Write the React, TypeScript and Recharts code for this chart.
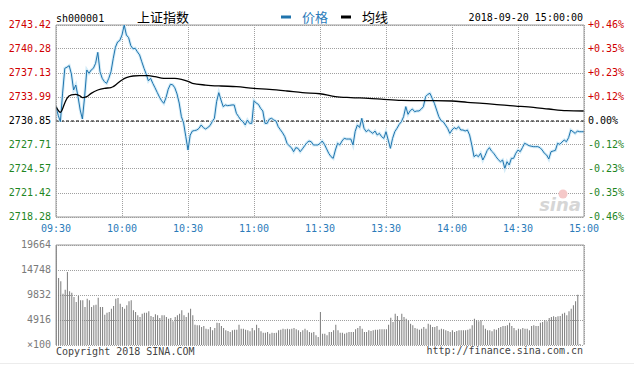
import React from 'react';
import { ComposedChart, Line, Bar, XAxis, YAxis, CartesianGrid, ReferenceLine } from 'recharts';

// ---- axis ticks & labels ----
const timeTicks = [0, 30, 60, 90, 120, 150, 180, 210, 240];
const timeLabels = ['09:30', '10:00', '10:30', '11:00', '11:30', '13:30', '14:00', '14:30', '15:00'];
const priceTicks = [2743.42, 2740.28, 2737.13, 2733.99, 2730.85, 2727.71, 2724.57, 2721.42, 2718.28];
const pctLabels = ['+0.46%', '+0.35%', '+0.23%', '+0.12%', '0.00%', '-0.12%', '-0.23%', '-0.35%', '-0.46%'];
const prevClose = 2730.85;
const volTicks = [0, 4916, 9832, 14748, 19664];
const volLabels = ['×100', '4916', '9832', '14748', '19664'];

// ---- price per minute (09:30 .. 15:00, 241 points) ----
const priceValues = [
  2732.73, 2731.60, 2730.76, 2734.50, 2737.75, 2737.90, 2738.10, 2737.00, 2734.91, 2735.56,
  2734.04, 2732.29, 2731.11, 2734.00, 2737.53, 2737.09, 2737.53, 2737.75, 2738.40, 2739.84,
  2737.31, 2736.44, 2736.00, 2735.78, 2736.44, 2737.31, 2739.00, 2740.50, 2741.20, 2741.40,
  2742.11, 2743.42, 2742.11, 2741.76, 2740.71, 2740.30, 2740.37, 2739.90, 2739.50, 2738.60,
  2737.75, 2737.00, 2736.10, 2736.44, 2735.78, 2735.20, 2734.60, 2734.00, 2733.50, 2733.16,
  2733.90, 2735.00, 2735.65, 2735.60, 2735.20, 2734.40, 2733.20, 2731.42, 2730.60, 2728.80,
  2727.05, 2729.00, 2729.54, 2729.60, 2729.67, 2729.89, 2730.33, 2729.98, 2729.80, 2730.00,
  2730.24, 2730.76, 2731.20, 2733.38, 2734.56, 2733.60, 2732.73, 2732.95, 2732.86, 2732.90,
  2732.95, 2732.95, 2731.85, 2731.42, 2730.98, 2730.76, 2730.33, 2730.98, 2730.54, 2730.54,
  2733.51, 2733.20, 2733.03, 2732.51, 2732.16, 2730.54, 2730.54, 2731.11, 2731.20, 2730.98,
  2730.85, 2730.11, 2729.70, 2729.30, 2728.80, 2727.93, 2727.60, 2727.36, 2726.83, 2727.36,
  2727.27, 2726.83, 2727.20, 2727.60, 2728.00, 2728.23, 2728.14, 2727.71, 2727.71, 2727.71,
  2727.90, 2728.23, 2727.80, 2727.20, 2726.60, 2726.18, 2725.96, 2727.05, 2727.93, 2727.71,
  2728.23, 2728.58, 2728.49, 2728.49, 2728.49, 2727.71, 2729.50, 2730.33, 2730.00, 2731.20,
  2729.89, 2729.45, 2729.67, 2729.45, 2729.23, 2729.54, 2729.02, 2729.23, 2728.80, 2728.58,
  2729.45, 2728.36, 2727.27, 2728.58, 2729.45, 2729.90, 2730.40, 2730.76, 2731.42, 2732.73,
  2731.72, 2732.20, 2732.42, 2732.07, 2732.16, 2732.16, 2732.40, 2732.73, 2734.04, 2734.34,
  2734.47, 2733.82, 2733.16, 2732.29, 2731.42, 2730.90, 2730.76, 2730.33, 2729.89, 2729.23,
  2729.67, 2729.98, 2729.80, 2730.11, 2729.67, 2729.67, 2729.54, 2729.67, 2729.02, 2727.71,
  2726.18, 2726.40, 2726.18, 2726.62, 2725.74, 2726.30, 2727.00, 2727.36, 2726.90, 2726.62,
  2726.18, 2725.80, 2725.52, 2725.74, 2724.65, 2725.52, 2725.09, 2725.96, 2725.96, 2726.62,
  2727.05, 2726.83, 2727.36, 2727.93, 2727.79, 2727.62, 2727.55, 2727.49, 2727.49, 2727.49,
  2727.36, 2727.05, 2726.62, 2726.40, 2725.87, 2726.83, 2726.92, 2727.00, 2727.93, 2727.79,
  2728.10, 2728.36, 2728.14, 2728.67, 2729.67, 2729.45, 2729.23, 2729.54, 2729.45, 2729.45,
  2729.45,
];

// ---- average price line (minute, value) ----
const avgMinutes = [0, 2, 4, 5, 7, 9, 11, 12, 14, 16, 19, 22, 25, 26, 28, 30, 32, 35, 38, 42, 45, 49, 54, 57, 60, 62, 68, 75, 82, 90, 97, 105, 112, 120, 127, 134, 142, 149, 157, 165, 172, 180, 187, 194, 202, 209, 217, 224, 232, 240];
const avgValues = [2732.73, 2731.98, 2733.20, 2733.82, 2734.26, 2734.34, 2734.12, 2733.91, 2734.04, 2734.47, 2734.91, 2735.13, 2735.22, 2735.35, 2735.78, 2736.22, 2736.52, 2736.74, 2736.79, 2736.79, 2736.66, 2736.44, 2736.44, 2736.31, 2736.05, 2735.78, 2735.56, 2735.43, 2735.35, 2735.13, 2735.00, 2734.78, 2734.56, 2734.42, 2734.04, 2733.91, 2733.82, 2733.69, 2733.56, 2733.51, 2733.51, 2733.47, 2733.29, 2733.16, 2732.95, 2732.81, 2732.64, 2732.42, 2732.20, 2732.16];

// ---- volume per minute (×100) ----
const volumeValues = [
  19664, 13175, 12520, 10095, 10880, 14355, 10553, 10290, 9440, 8455,
  9635, 8785, 8785, 7470, 9110, 8785, 7470, 7800, 7930, 9310,
  7470, 7470, 5965, 6360, 6490, 7145, 7670, 9110, 9240, 8130,
  7470, 7145, 7800, 8590, 8785, 6820, 6490, 5835, 5505, 6160,
  6360, 6360, 6620, 5700, 5505, 6030, 5835, 5310, 5835, 5835,
  5505, 5180, 5310, 4655, 5505, 5835, 6160, 6820, 5835, 5505,
  6360, 7145, 5835, 4000, 3870, 3870, 3540, 3735, 3210, 3080,
  3540, 2885, 3345, 4390, 4325, 3735, 3345, 2885, 2750, 2555,
  2885, 3015, 3015, 4000, 3210, 3210, 3015, 2885, 2690, 3345,
  2885, 4000, 3345, 2690, 2425, 2425, 2555, 2230, 2425, 2360,
  2425, 2885, 3015, 3210, 3080, 3210, 3080, 3210, 3345, 3080,
  2885, 2555, 2885, 3210, 2885, 2555, 2425, 2555, 1900, 1570,
  6490, 2230, 2230, 1900, 2555, 2555, 2885, 4000, 2885, 2425,
  2425, 2230, 2425, 2555, 2555, 2555, 3080, 3345, 3735, 3210,
  2555, 2555, 2885, 2750, 2885, 3015, 3015, 3080, 3080, 3080,
  3080, 4000, 5375, 4525, 6160, 5700, 4850, 6160, 5505, 5180,
  4850, 4195, 3870, 3345, 3210, 3015, 3210, 3540, 3210, 4195,
  4000, 3540, 3540, 3735, 3015, 3210, 3080, 2885, 2750, 2555,
  2885, 2555, 2750, 2885, 2885, 2885, 2885, 3015, 3210, 3870,
  5180, 4850, 4655, 4850, 3870, 3210, 2885, 2885, 2690, 3080,
  3015, 3345, 3540, 3735, 3735, 3870, 4390, 3735, 3345, 2885,
  3210, 3080, 3345, 3210, 3210, 2885, 3735, 3870, 3735, 3735,
  4390, 4525, 4850, 4655, 5310, 5505, 5635, 5505, 5635, 5700,
  6160, 6360, 5835, 6620, 7145, 7800, 8590, 9900, 200, 0,
  0,
];

const priceRows = priceValues.map((p, m) => ({ m, p }));
const avgRows = avgMinutes.map((m, i) => ({ m, a: avgValues[i] }));
const volRows = volumeValues.map((v, m) => ({ m, v }));

const mono = '"DejaVu Sans Mono", monospace';
const cjk = '"Noto Sans CJK SC", sans-serif';
const upColor = '#d00000';
const downColor = '#1f861f';
const timeColor = '#2b7bb9';
const frame = '#9a9a9a';
const gridColor = '#a0a0a0';

const nearestIndex = (v: number) => {
  let best = 0;
  priceTicks.forEach((t, i) => {
    if (Math.abs(t - v) < Math.abs(priceTicks[best] - v)) best = i;
  });
  return best;
};

const PriceTick = (props: any) => {
  const { x, y, payload } = props;
  const i = nearestIndex(payload.value);
  const color = i === 4 ? '#000' : i < 4 ? upColor : downColor;
  return (
    <text x={x} y={y} dy={3} textAnchor="end" fill={color} fontSize={10} fontFamily={mono}>
      {priceTicks[i].toFixed(2)}
    </text>
  );
};

const PctTick = (props: any) => {
  const { x, y, payload } = props;
  const i = nearestIndex(payload.value);
  const color = i === 4 ? '#000' : i < 4 ? upColor : downColor;
  return (
    <text x={x} y={y} dy={3} textAnchor="start" fill={color} fontSize={10} fontFamily={mono}>
      {pctLabels[i]}
    </text>
  );
};

const TimeTick = (props: any) => {
  const { x, y, payload } = props;
  const i = timeTicks.indexOf(payload.value);
  return (
    <text x={x} y={y} dy={7} textAnchor="middle" fill={timeColor} fontSize={10} fontFamily={mono}>
      {timeLabels[i]}
    </text>
  );
};

const VolTick = (props: any) => {
  const { x, y, payload } = props;
  const i = volTicks.indexOf(payload.value);
  return (
    <text x={x} y={y} dy={3} textAnchor="end" fill="#7a7a7a" fontSize={10} fontFamily={mono}>
      {volLabels[i]}
    </text>
  );
};

export default function App() {
  return (
    <div style={{ position: 'absolute', left: 0, top: 0, width: 634, height: 366, background: '#fff', overflow: 'hidden' }}>
      <div style={{ position: 'absolute', left: 0, top: 0 }}>
        <ComposedChart width={634} height={240} margin={{ top: 25, right: 0, bottom: 3, left: 0 }}>
          <CartesianGrid yAxisId="L" stroke={gridColor} strokeDasharray="1 1" shapeRendering="crispEdges" />
          <XAxis
            dataKey="m"
            type="number"
            domain={[0, 240]}
            ticks={timeTicks}
            interval={0}
            height={20}
            tickSize={0}
            tickMargin={8}
            tickLine={false}
            axisLine={{ stroke: frame }}
            tick={<TimeTick />}
            allowDataOverflow
          />
          <YAxis
            yAxisId="L"
            width={56}
            domain={[2718.28, 2743.42]}
            ticks={priceTicks}
            interval={0}
            tickSize={0}
            tickMargin={5}
            tickLine={false}
            axisLine={{ stroke: frame }}
            tick={<PriceTick />}
            allowDataOverflow
          />
          <YAxis
            yAxisId="R"
            orientation="right"
            width={50}
            domain={[2718.28, 2743.42]}
            ticks={priceTicks}
            interval={0}
            tickSize={0}
            tickMargin={4}
            tickLine={false}
            axisLine={{ stroke: frame }}
            tick={<PctTick />}
            allowDataOverflow
          />
          <ReferenceLine yAxisId="L" y={2743.42} stroke={frame} />
          <ReferenceLine yAxisId="L" y={prevClose} stroke="#000" strokeDasharray="3 2" />
          <Line yAxisId="L" data={priceRows} dataKey="p" type="linear" stroke="#d4ecf8" strokeWidth={3} dot={false} activeDot={false} isAnimationActive={false} />
          <Line yAxisId="L" data={priceRows} dataKey="p" type="linear" stroke="#1f74ad" strokeWidth={1} dot={false} activeDot={false} isAnimationActive={false} />
          <Line yAxisId="L" data={avgRows} dataKey="a" type="monotone" stroke="#000" strokeWidth={1.3} dot={false} activeDot={false} isAnimationActive={false} />
        </ComposedChart>
      </div>
      <div style={{ position: 'absolute', left: 0, top: 235 }}>
        <ComposedChart width={634} height={115} margin={{ top: 10, right: 50, bottom: 5, left: 0 }} data={volRows}>
          <CartesianGrid stroke={gridColor} strokeDasharray="1 1" shapeRendering="crispEdges" />
          <XAxis
            dataKey="m"
            type="number"
            domain={[0, 240]}
            ticks={timeTicks}
            interval={0}
            height={0}
            tick={false}
            tickLine={false}
            axisLine={{ stroke: frame }}
            allowDataOverflow
          />
          <YAxis
            width={56}
            domain={[0, 19664]}
            ticks={volTicks}
            interval={0}
            tickSize={0}
            tickMargin={5}
            tickLine={false}
            axisLine={{ stroke: frame }}
            tick={<VolTick />}
            allowDataOverflow
          />
          <ReferenceLine y={19664} stroke={frame} />
          <ReferenceLine x={240} stroke={frame} />
          <Bar dataKey="v" fill="#7a7a7a" barSize={1} isAnimationActive={false} />
        </ComposedChart>
      </div>
      <svg width={634} height={366} style={{ position: 'absolute', left: 0, top: 0, pointerEvents: 'none' }}>
        <text x={56} y={21.5} fontSize={10} fontFamily={mono} fill="#000">sh000001</text>
        <text x={137} y={22} fontSize={13} fontFamily={cjk} fill="#000">上证指数</text>
        <rect x={281} y={15.5} width={10} height={3} fill="#1f74ad" />
        <text x={302} y={22} fontSize={13} fontFamily={cjk} fill="#2b7bb9">价格</text>
        <rect x={341} y={15.5} width={10} height={3} fill="#000" />
        <text x={362} y={22} fontSize={13} fontFamily={cjk} fill="#000">均线</text>
        <text x={583} y={20.5} fontSize={10} fontFamily={mono} fill="#000" textAnchor="end">2018-09-20 15:00:00</text>
        <circle cx={563} cy={194} r={4.5} fill="#f5c8c8" />
        <text x={581} y={211} fontSize={18} fontStyle="italic" fontWeight="bold" fontFamily='"DejaVu Sans", sans-serif' fill="#d6d6d6" textAnchor="end">sina</text>
        <text x={56} y={354.5} fontSize={10} fontFamily={mono} fill="#444">Copyright 2018 SINA.COM</text>
        <text x={583} y={354} fontSize={10} fontFamily={mono} fill="#444" textAnchor="end">http://finance.sina.com.cn</text>
        <line x1={0} x2={634} y1={363.5} y2={363.5} stroke="#ececec" />
      </svg>
    </div>
  );
}
